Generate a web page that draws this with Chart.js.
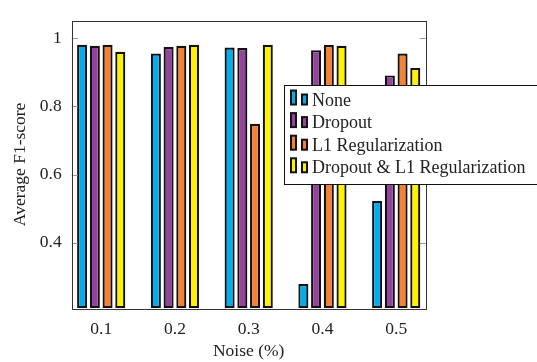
<!DOCTYPE html>
<html>
<head>
<meta charset="utf-8">
<script src="https://cdn.jsdelivr.net/npm/chart.js@4/dist/chart.umd.min.js"></script>
<style>
  html, body { margin: 0; padding: 0; background: #fff; }
  #wrap { width: 537px; height: 362px; }
</style>
</head>
<body>
<div id="wrap"><canvas id="myChart" width="537" height="362"></canvas></div>
<script>
// data
var noise = [0.1, 0.2, 0.3, 0.4, 0.5];
var noiseLabels = ['0.1', '0.2', '0.3', '0.4', '0.5'];
var seriesNames = ['None', 'Dropout', 'L1 Regularization', 'Dropout & L1 Regularization'];
var none = [0.981, 0.955, 0.973, 0.279, 0.523];
var dropout = [0.978, 0.974, 0.971, 0.965, 0.891];
var l1 = [0.981, 0.978, 0.749, 0.980, 0.955];
var dropoutL1 = [0.960, 0.981, 0.981, 0.978, 0.913];
var yTicks = [0.4, 0.6, 0.8, 1];
var yTickLabels = ['0.4', '0.6', '0.8', '1'];
var yMin = 0.208, yMax = 1.052;

var colors = ['#00adef', '#94449b', '#f58233', '#fff200'];
var serif = '"Liberation Serif", "DejaVu Serif", serif';

Chart.defaults.font.family = serif;
Chart.defaults.font.size = 17.5;
Chart.defaults.color = '#222';

function points(vals) {
    return vals.map(function(v, i) { return {x: noise[i], y: v}; });
}

var allSeries = [none, dropout, l1, dropoutL1];
var datasets = allSeries.map(function(vals, i) {
    return {
        label: seriesNames[i],
        data: points(vals),
        backgroundColor: colors[i],
        borderColor: '#111',
        borderWidth: 2.2,
        borderSkipped: false,
        base: yMin,
        categoryPercentage: 0.69,
        barPercentage: 0.79
    };
});

// frame, inner y ticks and the pgfplots style legend
var framePlugin = {
    id: 'frame',
    afterDatasetsDraw: function(chart) {
        var ctx = chart.ctx, a = chart.chartArea, ys = chart.scales.y;
        ctx.save();
        ctx.strokeStyle = '#999';
        ctx.lineWidth = 1;
        yTicks.forEach(function(t) {
            var py = Math.round(ys.getPixelForValue(t)) + 0.5;
            ctx.beginPath();
            ctx.moveTo(a.left, py); ctx.lineTo(a.left + 6, py);
            ctx.moveTo(a.right, py); ctx.lineTo(a.right - 6, py);
            ctx.stroke();
        });
        ctx.strokeStyle = '#333';
        ctx.strokeRect(Math.round(a.left) + 0.5, Math.round(a.top) + 0.5,
            Math.round(a.right - a.left), Math.round(a.bottom - a.top));
        ctx.restore();
    },
    afterDraw: function(chart) {
        var ctx = chart.ctx;
        ctx.save();
        ctx.fillStyle = '#fff';
        ctx.fillRect(284.5, 85.5, 260, 99);
        ctx.strokeStyle = '#111';
        ctx.lineWidth = 1;
        ctx.strokeRect(284.5, 85.5, 260, 99);
        ctx.font = '18px ' + serif;
        ctx.textBaseline = 'alphabetic';
        ctx.textAlign = 'left';
        chart.data.datasets.forEach(function(ds, i) {
            var base = 105.5 + i * 22.6;
            ctx.fillStyle = ds.backgroundColor;
            ctx.strokeStyle = '#111';
            ctx.lineWidth = 2;
            ctx.fillRect(291, base - 15, 5, 14);
            ctx.strokeRect(291, base - 15, 5, 14);
            ctx.fillRect(302, base - 11, 5, 10);
            ctx.strokeRect(302, base - 11, 5, 10);
            ctx.fillStyle = '#222';
            ctx.fillText(ds.label, 312, base);
        });
        ctx.restore();
    }
};

var ctx = document.getElementById('myChart').getContext('2d');
var myChart = new Chart(ctx, {
    type: 'bar',
    data: { datasets: datasets },
    options: {
        responsive: false,
        animation: false,
        layout: { padding: { left: 0, top: 14, right: 111.3, bottom: 0 } },
        plugins: { legend: { display: false }, tooltip: { enabled: false } },
        scales: {
            x: {
                type: 'linear',
                min: 0.06,
                max: 0.54,
                offset: false,
                grid: { display: false, drawTicks: false },
                border: { display: false },
                afterBuildTicks: function(scale) {
                    scale.ticks = noise.map(function(v) { return {value: v}; });
                },
                afterFit: function(scale) { scale.height = 53.7; },
                ticks: {
                    padding: 11,
                    maxRotation: 0,
                    callback: function(v, i) { return noiseLabels[i]; }
                },
                title: { display: true, text: 'Noise (%)', padding: { top: 0, bottom: 0 } }
            },
            y: {
                min: yMin,
                max: yMax,
                grid: { display: false, drawTicks: false },
                border: { display: false },
                afterBuildTicks: function(scale) {
                    scale.ticks = yTicks.map(function(v) { return {value: v}; });
                },
                afterFit: function(scale) { scale.width = 71.7; },
                ticks: {
                    padding: 10,
                    callback: function(v, i) { return yTickLabels[i]; }
                },
                title: { display: true, text: 'Average F1-score', padding: { top: 9.5, bottom: 0 } }
            }
        }
    },
    plugins: [framePlugin]
});
</script>
</body>
</html>
